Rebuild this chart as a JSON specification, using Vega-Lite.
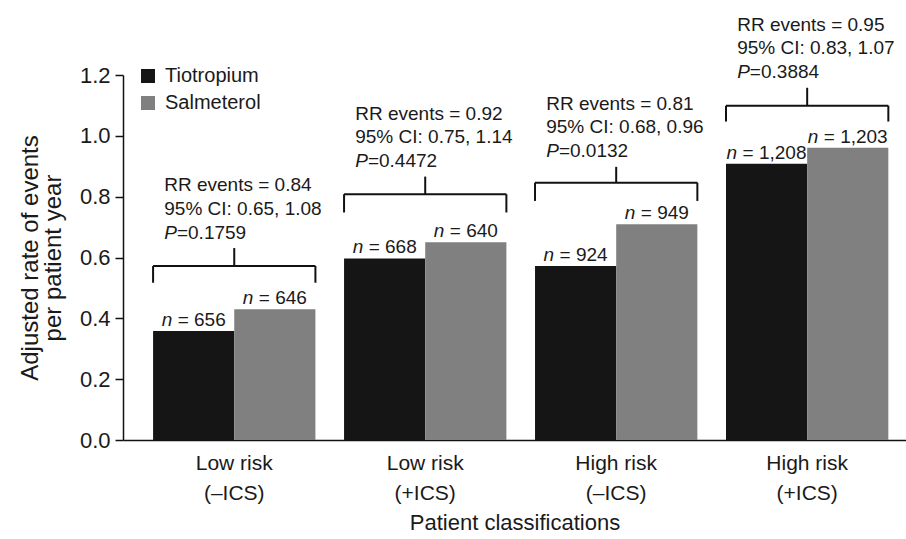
{
  "$schema": "https://vega.github.io/schema/vega-lite/v6.json",
  "width": 783,
  "height": 365,
  "autosize": {"type": "none"},
  "padding": {"left": 123, "top": 75, "right": 0, "bottom": 99},
  "background": "white",
  "config": {
    "font": "Liberation Sans",
    "view": {"stroke": null},
    "text": {"color": "#1a1a1a", "font": "Liberation Sans"},
    "axis": {"labelColor": "#1a1a1a", "titleColor": "#1a1a1a", "domainColor": "#111111", "tickColor": "#111111", "labelFont": "Liberation Sans", "titleFont": "Liberation Sans", "titleFontWeight": "normal"},
    "legend": {"labelFont": "Liberation Sans", "labelColor": "#1a1a1a"}
  },
  "datasets": {
    "bars": [
      {"group": "Low risk (–ICS)", "treatment": "Tiotropium", "rate": 0.358, "n": 656, "nText": "= 656"},
      {"group": "Low risk (–ICS)", "treatment": "Salmeterol", "rate": 0.43, "n": 646, "nText": "= 646"},
      {"group": "Low risk (+ICS)", "treatment": "Tiotropium", "rate": 0.597, "n": 668, "nText": "= 668"},
      {"group": "Low risk (+ICS)", "treatment": "Salmeterol", "rate": 0.65, "n": 640, "nText": "= 640"},
      {"group": "High risk (–ICS)", "treatment": "Tiotropium", "rate": 0.572, "n": 924, "nText": "= 924"},
      {"group": "High risk (–ICS)", "treatment": "Salmeterol", "rate": 0.709, "n": 949, "nText": "= 949"},
      {"group": "High risk (+ICS)", "treatment": "Tiotropium", "rate": 0.908, "n": 1208, "nText": "= 1,208"},
      {"group": "High risk (+ICS)", "treatment": "Salmeterol", "rate": 0.961, "n": 1203, "nText": "= 1,203"}
    ],
    "notes": [
      {"group": "Low risk (–ICS)", "bracket": 0.572, "drop": 0.517, "stem": 0.631, "rr": "RR events = 0.84", "ci": "95% CI: 0.65, 1.08", "p": "=0.1759"},
      {"group": "Low risk (+ICS)", "bracket": 0.808, "drop": 0.748, "stem": 0.866, "rr": "RR events = 0.92", "ci": "95% CI: 0.75, 1.14", "p": "=0.4472"},
      {"group": "High risk (–ICS)", "bracket": 0.846, "drop": 0.786, "stem": 0.898, "rr": "RR events = 0.81", "ci": "95% CI: 0.68, 0.96", "p": "=0.0132"},
      {"group": "High risk (+ICS)", "bracket": 1.099, "drop": 1.047, "stem": 1.158, "rr": "RR events = 0.95", "ci": "95% CI: 0.83, 1.07", "p": "=0.3884"}
    ]
  },
  "layer": [
    {
      "data": {"name": "bars"},
      "mark": {"type": "bar"},
      "encoding": {
        "x": {
          "field": "group", "type": "nominal", "sort": null,
          "scale": {"domain": ["Low risk (–ICS)", "Low risk (+ICS)", "High risk (–ICS)", "High risk (+ICS)"], "paddingInner": 0.15, "paddingOuter": 0.125, "align": 0.63},
          "axis": {
            "title": "Patient classifications",
            "titleFontSize": 22,
            "titlePadding": 9,
            "labelAngle": 0,
            "labelFontSize": 21,
            "labelLineHeight": 30,
            "labelPadding": 12,
            "ticks": false,
            "domainWidth": 1.5,
            "labelExpr": "[substring(datum.label, 0, indexof(datum.label, ' (')), substring(datum.label, indexof(datum.label, ' (') + 1)]"
          }
        },
        "xOffset": {"field": "treatment", "type": "nominal", "sort": ["Tiotropium", "Salmeterol"]},
        "y": {
          "field": "rate", "type": "quantitative",
          "scale": {"domain": [0, 1.2], "nice": false},
          "axis": {
            "title": ["Adjusted rate of events", "per patient year"],
            "titleFontSize": 24,
            "titleLineHeight": 23,
            "titlePadding": 14,
            "values": [0, 0.2, 0.4, 0.6, 0.8, 1.0, 1.2],
            "format": ".1f",
            "grid": false,
            "tickSize": 8,
            "tickWidth": 1.5,
            "domainWidth": 1.5,
            "labelFontSize": 22,
            "labelPadding": 5
          }
        },
        "color": {
          "field": "treatment", "type": "nominal",
          "scale": {"domain": ["Tiotropium", "Salmeterol"], "range": ["#151515", "#808080"]},
          "legend": {
            "orient": "none", "legendX": 15, "legendY": -9, "title": null,
            "symbolType": "square", "symbolSize": 196, "symbolStrokeWidth": 0,
            "labelFontSize": 20, "labelOffset": 7, "rowPadding": 7
          }
        }
      }
    },
    {
      "data": {"name": "bars"},
      "transform": [{"filter": "datum.n < 1000"}],
      "mark": {"type": "text", "align": "left", "baseline": "alphabetic", "dx": -32, "dy": -5, "fontSize": 19, "fontStyle": "italic"},
      "encoding": {
        "x": {"field": "group", "type": "nominal", "sort": null},
        "xOffset": {"field": "treatment", "type": "nominal", "sort": ["Tiotropium", "Salmeterol"]},
        "y": {"field": "rate", "type": "quantitative"},
        "text": {"value": "n"}
      }
    },
    {
      "data": {"name": "bars"},
      "transform": [{"filter": "datum.n < 1000"}],
      "mark": {"type": "text", "align": "left", "baseline": "alphabetic", "dx": -16, "dy": -5, "fontSize": 19},
      "encoding": {
        "x": {"field": "group", "type": "nominal", "sort": null},
        "xOffset": {"field": "treatment", "type": "nominal", "sort": ["Tiotropium", "Salmeterol"]},
        "y": {"field": "rate", "type": "quantitative"},
        "text": {"field": "nText"}
      }
    },
    {
      "data": {"name": "bars"},
      "transform": [{"filter": "datum.n >= 1000"}],
      "mark": {"type": "text", "align": "left", "baseline": "alphabetic", "dx": -40, "dy": -5, "fontSize": 19, "fontStyle": "italic"},
      "encoding": {
        "x": {"field": "group", "type": "nominal", "sort": null},
        "xOffset": {"field": "treatment", "type": "nominal", "sort": ["Tiotropium", "Salmeterol"]},
        "y": {"field": "rate", "type": "quantitative"},
        "text": {"value": "n"}
      }
    },
    {
      "data": {"name": "bars"},
      "transform": [{"filter": "datum.n >= 1000"}],
      "mark": {"type": "text", "align": "left", "baseline": "alphabetic", "dx": -24, "dy": -5, "fontSize": 19},
      "encoding": {
        "x": {"field": "group", "type": "nominal", "sort": null},
        "xOffset": {"field": "treatment", "type": "nominal", "sort": ["Tiotropium", "Salmeterol"]},
        "y": {"field": "rate", "type": "quantitative"},
        "text": {"field": "nText"}
      }
    },
    {
      "data": {"name": "notes"},
      "mark": {"type": "rule", "color": "#111111", "strokeWidth": 2},
      "encoding": {
        "x": {"field": "group", "type": "nominal", "sort": null, "bandPosition": 0},
        "x2": {"field": "group", "bandPosition": 1},
        "y": {"field": "bracket", "type": "quantitative"}
      }
    },
    {
      "data": {"name": "notes"},
      "mark": {"type": "rule", "color": "#111111", "strokeWidth": 2},
      "encoding": {
        "x": {"field": "group", "type": "nominal", "sort": null, "bandPosition": 0},
        "y": {"field": "drop", "type": "quantitative"},
        "y2": {"field": "bracket"}
      }
    },
    {
      "data": {"name": "notes"},
      "mark": {"type": "rule", "color": "#111111", "strokeWidth": 2},
      "encoding": {
        "x": {"field": "group", "type": "nominal", "sort": null, "bandPosition": 1},
        "y": {"field": "drop", "type": "quantitative"},
        "y2": {"field": "bracket"}
      }
    },
    {
      "data": {"name": "notes"},
      "mark": {"type": "rule", "color": "#111111", "strokeWidth": 2},
      "encoding": {
        "x": {"field": "group", "type": "nominal", "sort": null},
        "y": {"field": "bracket", "type": "quantitative"},
        "y2": {"field": "stem"}
      }
    },
    {
      "data": {"name": "notes"},
      "mark": {"type": "text", "align": "left", "baseline": "middle", "dx": -70, "dy": -63, "fontSize": 19},
      "encoding": {
        "x": {"field": "group", "type": "nominal", "sort": null},
        "y": {"field": "stem", "type": "quantitative"},
        "text": {"field": "rr"}
      }
    },
    {
      "data": {"name": "notes"},
      "mark": {"type": "text", "align": "left", "baseline": "middle", "dx": -70, "dy": -39.5, "fontSize": 19},
      "encoding": {
        "x": {"field": "group", "type": "nominal", "sort": null},
        "y": {"field": "stem", "type": "quantitative"},
        "text": {"field": "ci"}
      }
    },
    {
      "data": {"name": "notes"},
      "mark": {"type": "text", "align": "left", "baseline": "middle", "dx": -70, "dy": -15.5, "fontSize": 19, "fontStyle": "italic"},
      "encoding": {
        "x": {"field": "group", "type": "nominal", "sort": null},
        "y": {"field": "stem", "type": "quantitative"},
        "text": {"value": "P"}
      }
    },
    {
      "data": {"name": "notes"},
      "mark": {"type": "text", "align": "left", "baseline": "middle", "dx": -57.3, "dy": -15.5, "fontSize": 19},
      "encoding": {
        "x": {"field": "group", "type": "nominal", "sort": null},
        "y": {"field": "stem", "type": "quantitative"},
        "text": {"field": "p"}
      }
    }
  ]
}
